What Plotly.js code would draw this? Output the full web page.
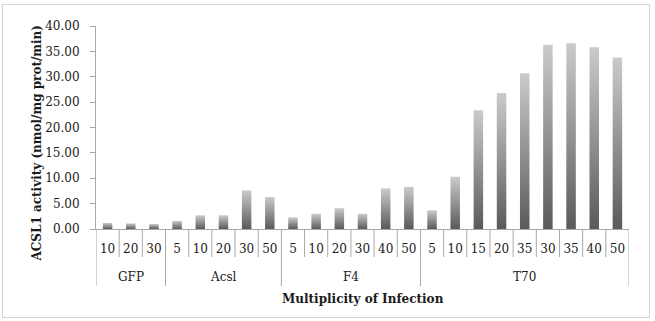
<!DOCTYPE html>
<html>
<head>
<meta charset="utf-8">
<script src="https://cdn.plot.ly/plotly-3.0.1.min.js"></script>
<style>
  html, body { margin: 0; padding: 0; background: #fff; }
  #wrap { position: relative; width: 655px; height: 321px; }
  #chart { width: 655px; height: 321px; }
  #frame {
    position: absolute; left: 2px; top: 4px; width: 646px; height: 312px;
    border: 1.5px solid #d4d4d4; pointer-events: none;
  }
</style>
</head>
<body>
<div id="wrap">
  <div id="chart"></div>
  <div id="frame"></div>
</div>
<script>
// ACSL1 activity by virus and multiplicity of infection (MOI)
const groupNames = ['GFP', 'Acsl', 'F4', 'T70'];

const gfpMoi = ['10', '20', '30'];
const gfpActivity = [1.2, 1.1, 1.0];

const acslMoi = ['5', '10', '20', '30', '50'];
const acslActivity = [1.6, 2.7, 2.7, 7.6, 6.3];

const f4Moi = ['5', '10', '20', '30', '40', '50'];
const f4Activity = [2.3, 3.0, 4.1, 3.0, 8.0, 8.3];

const t70Moi = ['5', '10', '15', '20', '35', '30', '35', '40', '50'];
const t70Activity = [3.7, 10.3, 23.4, 26.8, 30.7, 36.3, 36.6, 35.8, 33.8];

const yTickVals = [0, 5, 10, 15, 20, 25, 30, 35, 40];

const groups = [
  { name: groupNames[0], moi: gfpMoi, activity: gfpActivity },
  { name: groupNames[1], moi: acslMoi, activity: acslActivity },
  { name: groupNames[2], moi: f4Moi, activity: f4Activity },
  { name: groupNames[3], moi: t70Moi, activity: t70Activity }
];

// Flatten groups into consecutive slots on the x axis
const xIdx = [], xLabels = [], yVals = [];
const groupCenters = [], groupEdges = [];
let pos = 0;
groups.forEach(g => {
  groupEdges.push(pos - 0.5);
  groupCenters.push(pos + (g.moi.length - 1) / 2);
  g.moi.forEach((m, i) => {
    xIdx.push(pos);
    xLabels.push(m);
    yVals.push(g.activity[i]);
    pos++;
  });
});
groupEdges.push(pos - 0.5);

const FONT = 'DejaVu Serif, Liberation Serif, serif';
const LINE = '#a8a8a8';
const INK = '#1a1a1a';

// Separator lines below the axis: short between MOI slots, long between groups
const shapes = [];
for (let b = 0; b <= xIdx.length; b++) {
  const x = b - 0.5;
  const isGroupEdge = groupEdges.indexOf(x) !== -1;
  shapes.push({
    type: 'line', xref: 'x', yref: 'paper',
    ysizemode: 'pixel', yanchor: 0,
    x0: x, x1: x, y0: 0, y1: isGroupEdge ? -57 : -28,
    line: { color: LINE, width: 1 }
  });
}

const annotations = groupCenters.map((c, i) => ({
  x: c, xref: 'x', y: 0, yref: 'paper', yshift: -48,
  yanchor: 'middle', xanchor: 'center', showarrow: false,
  text: groupNames[i], font: { family: FONT, size: 12, color: INK }
}));

// Axis titles
annotations.push({
  x: 0, xref: 'paper', xshift: -59.5, y: 0, yref: 'paper', yshift: 86,
  xanchor: 'center', yanchor: 'middle', textangle: -90, showarrow: false,
  text: 'ACSL1 activity (nmol/mg prot/min)',
  font: { family: FONT, size: 12, color: INK, weight: 'bold' }
});
annotations.push({
  x: 0.5, xref: 'paper', y: 0, yref: 'paper', yshift: -70,
  xanchor: 'center', yanchor: 'middle', showarrow: false,
  text: 'Multiplicity of Infection',
  font: { family: FONT, size: 12, color: INK, weight: 'bold' }
});

const trace = {
  type: 'bar',
  x: xIdx,
  y: yVals,
  width: 0.41,
  marker: { color: '#8a8a8a', line: { width: 0 } },
  hoverinfo: 'skip'
};

const layout = {
  width: 655, height: 321,
  margin: { l: 96, r: 26, t: 26, b: 92 },
  paper_bgcolor: '#ffffff', plot_bgcolor: '#ffffff',
  showlegend: false,
  font: { family: FONT, size: 12, color: INK },
  xaxis: {
    type: 'linear', range: [-0.5, xIdx.length - 0.5],
    tickmode: 'array', tickvals: xIdx, ticktext: xLabels,
    ticks: '', showgrid: false, zeroline: false,
    showline: true, linecolor: LINE, linewidth: 1,
    ticklabelstandoff: 9,
    tickfont: { family: FONT, size: 12, color: INK }
  },
  yaxis: {
    range: [0, 40], tickmode: 'array', tickvals: yTickVals,
    tickformat: '.2f', ticks: 'outside', ticklen: 5, tickcolor: LINE,
    showgrid: false, zeroline: false,
    showline: true, linecolor: LINE, linewidth: 1,
    ticklabelstandoff: 8,
    tickfont: { family: FONT, size: 12, color: INK }
  },
  shapes: shapes,
  annotations: annotations
};

// Vertical light-to-dark shading on every bar
function shadeBars(gd) {
  const svg = gd.querySelector('.main-svg');
  const NS = 'http://www.w3.org/2000/svg';
  let defs = svg.querySelector('defs');
  if (!defs) { defs = document.createElementNS(NS, 'defs'); svg.insertBefore(defs, svg.firstChild); }
  if (!svg.querySelector('#barShade')) {
    const grad = document.createElementNS(NS, 'linearGradient');
    grad.setAttribute('id', 'barShade');
    grad.setAttribute('x1', '0'); grad.setAttribute('y1', '0');
    grad.setAttribute('x2', '0'); grad.setAttribute('y2', '1');
    [['0', '#cbcbcb'], ['1', '#5a5a5a']].forEach(([o, c]) => {
      const s = document.createElementNS(NS, 'stop');
      s.setAttribute('offset', o); s.setAttribute('stop-color', c);
      grad.appendChild(s);
    });
    defs.appendChild(grad);
  }
  gd.querySelectorAll('.bars .point path').forEach(p => {
    p.style.fill = 'url(#barShade)';
  });
}

const gd = document.getElementById('chart');
Plotly.newPlot(gd, [trace], layout, { displayModeBar: false, staticPlot: true })
  .then(() => shadeBars(gd));
</script>
</body>
</html>
